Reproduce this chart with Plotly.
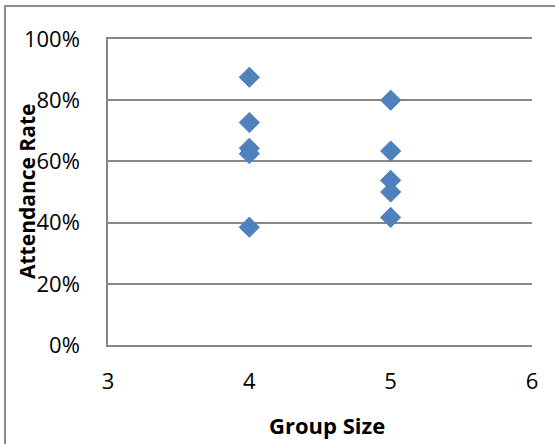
import plotly.graph_objects as go

group4_sizes = [4, 4, 4, 4, 4]
group4_rates = [0.875, 0.727, 0.643, 0.625, 0.385]
group5_sizes = [5, 5, 5, 5, 5]
group5_rates = [0.80, 0.634, 0.538, 0.50, 0.417]

x_ticks = [3, 4, 5, 6]
y_ticks = [0, 0.2, 0.4, 0.6, 0.8, 1.0]
x_title = "Group Size"
y_title = "Attendance Rate"

FONT = "Open Sans"
GRID = "#878787"
BLUE = "#4A7EBB"

fig = go.Figure()
fig.add_trace(go.Scatter(
    x=group4_sizes + group5_sizes,
    y=group4_rates + group5_rates,
    mode="markers",
    marker=dict(symbol="diamond", size=15.5, color="#4F81BD",
                line=dict(color=BLUE, width=1)),
    showlegend=False,
))

L, R, T, B = 108, 23, 39, 99
W, H = 555, 444
pw, ph = W - L - R, H - T - B

fig.update_layout(
    width=W, height=H,
    margin=dict(l=L, r=R, t=T, b=B, pad=0),
    paper_bgcolor="white", plot_bgcolor="white",
    font=dict(family=FONT, size=22, color="black"),
    xaxis=dict(range=[3, 6], tickvals=x_ticks, showgrid=False, zeroline=False,
               showline=True, mirror=True, linecolor=GRID, linewidth=1.5,
               ticks="", ticklabelstandoff=16, tickfont=dict(size=22)),
    yaxis=dict(range=[0, 1], tickvals=y_ticks, tickformat=".0%",
               showgrid=True, gridcolor=GRID, gridwidth=1.5,
               zeroline=False, showline=True, linecolor=GRID, linewidth=1.5,
               ticks="", ticklabelstandoff=22, tickfont=dict(size=22)),
    annotations=[
        dict(text="<b>" + x_title + "</b>", xref="paper", yref="paper",
             x=(327 - L) / pw, y=-(425 - (T + ph)) / ph, showarrow=False,
             xanchor="center", yanchor="middle", font=dict(size=22)),
        dict(text="<b>" + y_title + "</b>", xref="paper", yref="paper",
             x=(27 - L) / pw, y=0.5, showarrow=False, textangle=-90,
             xanchor="center", yanchor="middle", font=dict(size=21)),
    ],
    shapes=[dict(type="rect", xref="paper", yref="paper",
                 x0=(5 - L) / pw, x1=(W + 20 - L) / pw,
                 y0=-(H + 20 - (T + ph)) / ph, y1=((T + ph) - 6) / ph,
                 line=dict(color="#8C8C8C", width=2), layer="below")],
)

fig.write_html("out.html",
               config={"displayModeBar": False},
               post_script="document.body.style.margin='0';document.body.style.overflow='hidden';")
